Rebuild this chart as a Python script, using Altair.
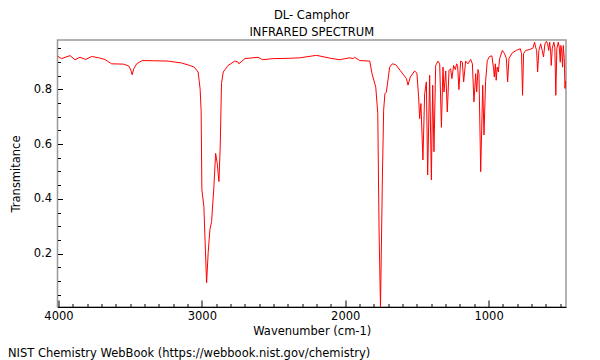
import altair as alt
import pandas as pd

# ---- data ----
wavenumber = [
    4007, 3978, 3920, 3885, 3850, 3810, 3769, 3720, 3676, 3630, 3548, 3510, 3495, 3486, 3475,
    3455, 3416, 3235, 3141, 3084, 3054, 3026, 3019, 3012, 3005, 3000, 2986, 2967, 2956, 2944,
    2932, 2916, 2904, 2893, 2881, 2872, 2863, 2851, 2817, 2770, 2747, 2742, 2700, 2608, 2577,
    2503, 2400, 2317, 2200, 2100, 2039, 1969, 1946, 1934, 1899, 1829, 1813, 1787, 1773, 1764,
    1754, 1741, 1732, 1723, 1713, 1690, 1671, 1648, 1608, 1573, 1562, 1546, 1516, 1500, 1488,
    1481, 1472, 1458, 1446, 1434, 1425, 1411, 1399, 1390, 1381, 1369, 1353, 1341, 1329, 1318,
    1311, 1299, 1288, 1276, 1265, 1256, 1244, 1232, 1223, 1216, 1207, 1195, 1183, 1174, 1160,
    1144, 1125, 1113, 1102, 1090, 1083, 1074, 1067, 1055, 1041, 1032, 1021, 1009, 993, 977,
    965, 960, 953, 947, 940, 932, 923, 904, 888, 876, 867, 858, 835, 807, 779,
    770, 763, 756, 742, 714, 691, 679, 672, 665, 658, 649, 637, 626, 617, 607,
    597, 588, 581, 574, 567, 563, 556, 545, 538, 531, 524, 514, 507, 500, 496,
    489, 484, 479, 472, 467, 463,
]
transmittance = [
    0.921, 0.912, 0.923, 0.908, 0.917, 0.909, 0.920, 0.915, 0.909, 0.893, 0.892, 0.885, 0.870, 0.853, 0.875,
    0.893, 0.905, 0.903, 0.896, 0.887, 0.881, 0.863, 0.833, 0.800, 0.720, 0.433, 0.372, 0.093, 0.204, 0.287,
    0.317, 0.445, 0.566, 0.530, 0.463, 0.590, 0.821, 0.863, 0.887, 0.903, 0.899, 0.893, 0.912, 0.917, 0.908,
    0.912, 0.913, 0.915, 0.924, 0.913, 0.908, 0.915, 0.912, 0.917, 0.905, 0.903, 0.857, 0.808, 0.712, 0.287,
    0.003, 0.469, 0.724, 0.784, 0.790, 0.881, 0.893, 0.890, 0.863, 0.839, 0.815, 0.845, 0.867, 0.859, 0.772,
    0.693, 0.748, 0.542, 0.784, 0.827, 0.487, 0.851, 0.469, 0.815, 0.572, 0.887, 0.903, 0.893, 0.661, 0.881,
    0.790, 0.867, 0.717, 0.869, 0.875, 0.839, 0.887, 0.872, 0.893, 0.887, 0.799, 0.903, 0.899, 0.827, 0.903,
    0.893, 0.909, 0.893, 0.754, 0.857, 0.790, 0.872, 0.857, 0.499, 0.815, 0.633, 0.827, 0.905, 0.920, 0.922,
    0.875, 0.845, 0.893, 0.833, 0.881, 0.863, 0.912, 0.942, 0.930, 0.912, 0.827, 0.912, 0.933, 0.942, 0.948,
    0.930, 0.778, 0.930, 0.942, 0.945, 0.950, 0.972, 0.954, 0.942, 0.863, 0.942, 0.966, 0.942, 0.918, 0.966,
    0.975, 0.966, 0.942, 0.972, 0.936, 0.887, 0.948, 0.972, 0.954, 0.778, 0.948, 0.972, 0.954, 0.899, 0.960,
    0.936, 0.881, 0.960, 0.912, 0.803, 0.830,
]
x_major = [4000, 3000, 2000, 1000]
x_minor = [500, 600, 700, 800, 900, 1100, 1200, 1300, 1400, 1500, 1600, 1700, 1800, 1900,
           2100, 2200, 2300, 2400, 2500, 2600, 2700, 2800, 2900, 3100, 3200, 3300, 3400,
           3500, 3600, 3700, 3800, 3900]
y_major = [0.2, 0.4, 0.6, 0.8]
y_minor = [0.05, 0.1, 0.15, 0.25, 0.3, 0.35, 0.45, 0.5, 0.55, 0.65, 0.7, 0.75, 0.85, 0.9, 0.95]
title_lines = ["DL- Camphor", "INFRARED SPECTRUM"]
x_title = "Wavenumber (cm-1)"
y_title = "Transmitance"
footer = ["NIST Chemistry WebBook (https://webbook.nist.gov/chemistry)"]

W = 508.5
H = 267
FONT = "DejaVu Sans"
FS = 11.5

df = pd.DataFrame({"wn": wavenumber, "T": transmittance})
xscale = alt.Scale(domain=[460, 4007], reverse=True, nice=False, zero=False)
yscale = alt.Scale(domain=[0.005, 0.98], nice=False, zero=False)

base = alt.Chart(df)

main = base.mark_line(color="#ff0000", strokeWidth=1, clip=True).encode(
    x=alt.X("wn:Q", scale=xscale, title=x_title,
            axis=alt.Axis(orient="bottom", values=x_major, format="d", tickSize=0, labelPadding=3,
                          domain=True, domainColor="#000000", domainWidth=1,
                          labelFont=FONT, labelFontSize=FS, labelColor="#000000",
                          titleFont=FONT, titleFontSize=FS, titleFontWeight="normal",
                          titleColor="#000000", titleBaseline="middle",
                          titleX=W / 2, titleY=24, titleAnchor="middle")),
    y=alt.Y("T:Q", scale=yscale, title=y_title,
            axis=alt.Axis(orient="left", values=y_major, format=".1f", tickSize=0,
                          labelPadding=6, domain=False,
                          labelFont=FONT, labelFontSize=FS, labelColor="#000000",
                          titleFont=FONT, titleFontSize=FS, titleFontWeight="normal",
                          titleColor="#000000", titleBaseline="middle",
                          titleX=-41.5, titleY=H / 2, titleAngle=-90)),
)

minor_ticks = base.mark_line(opacity=0).encode(
    x=alt.X("wn:Q", scale=xscale, title=None,
            axis=alt.Axis(orient="top", offset=-H, values=x_minor, tickSize=3.5,
                          tickColor="#000000", labels=False, domain=False)),
    y=alt.Y("T:Q", scale=yscale, title=None,
            axis=alt.Axis(orient="right", offset=-W, values=y_minor, tickSize=3,
                          tickColor="#000000", labels=False, domain=False)),
)

major_ticks = base.mark_line(opacity=0).encode(
    x=alt.X("wn:Q", scale=xscale, title=None,
            axis=alt.Axis(orient="top", offset=-H, values=x_major, tickSize=7,
                          tickColor="#000000", labels=False, domain=False)),
    y=alt.Y("T:Q", scale=yscale, title=None,
            axis=alt.Axis(orient="right", offset=-W, values=y_major, tickSize=5,
                          tickColor="#000000", labels=False, domain=False)),
)

foot = alt.Chart(pd.DataFrame({"t": footer})).mark_text(
    align="left", baseline="middle", font=FONT, fontSize=FS, color="#000000"
).encode(text="t:N", x=alt.value(-49.5), y=alt.value(313.5))

chart = alt.layer(main, minor_ticks, major_ticks, foot).resolve_axis(
    x="independent", y="independent"
).properties(
    width=W, height=H,
    padding={"left": 49.5, "top": 32, "right": 20, "bottom": 53},
    autosize=alt.AutoSizeParams(type="none"),
    title=alt.Title(title_lines, fontSize=FS, fontWeight="normal", font=FONT,
                    color="#000000", lineHeight=16.5, offset=2, anchor="middle",
                    frame="group"),
).configure_view(
    stroke="#999999", strokeWidth=1.5
).configure_axis(grid=False)

chart.save("out.html", embed_options={"renderer": "svg", "actions": False})
